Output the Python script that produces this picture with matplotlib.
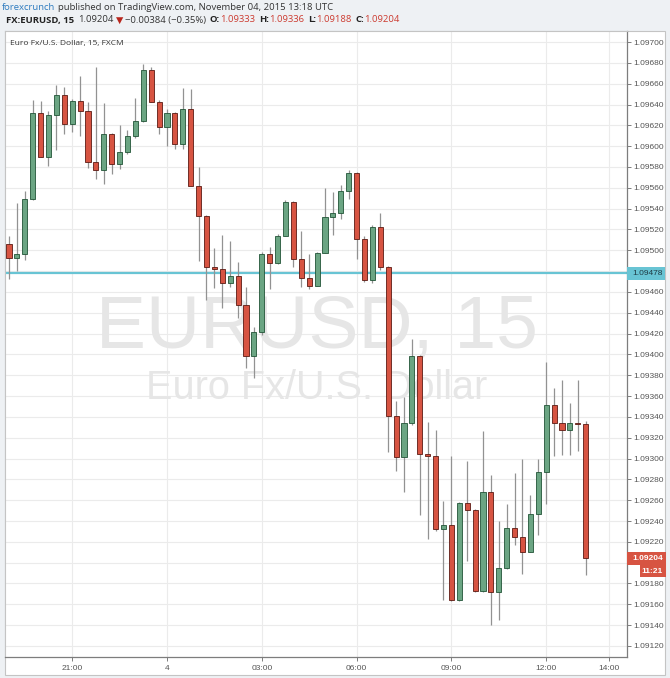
import matplotlib
matplotlib.use("Agg")
import matplotlib.pyplot as plt
import matplotlib.transforms as mtrans
from matplotlib.patches import Rectangle
import numpy as np
import pandas as pd

# ---------------- data (EURUSD 15-minute candles) ----------------
start_time = "2015-11-03 19:00"
opens = [1.09506, 1.09493, 1.09496, 1.09549, 1.09632, 1.09590, 1.09630, 1.09649, 1.09621, 1.09643,
         1.09634, 1.09585, 1.09577, 1.09612, 1.09583, 1.09594, 1.09610, 1.09624, 1.09673, 1.09642,
         1.09618, 1.09632, 1.09602, 1.09636, 1.09562, 1.09533, 1.09484, 1.09482, 1.09469, 1.09475,
         1.09447, 1.09398, 1.09422, 1.09496, 1.09488, 1.09514, 1.09546, 1.09492, 1.09473, 1.09466,
         1.09497, 1.09532, 1.09536, 1.09557, 1.09574, 1.09511, 1.09471, 1.09522, 1.09484, 1.09341,
         1.09301, 1.09334, 1.09398, 1.09304, 1.09302, 1.09232, 1.09236, 1.09164, 1.09257, 1.09251,
         1.09173, 1.09268, 1.09172, 1.09195, 1.09233, 1.09225, 1.09210, 1.09247, 1.09287, 1.09351,
         1.09334, 1.09327, 1.09334, 1.09333]
highs = [1.09514, 1.09545, 1.09557, 1.09644, 1.09643, 1.09634, 1.09659, 1.09657, 1.09645, 1.09667,
         1.09642, 1.09676, 1.09641, 1.09613, 1.09620, 1.09616, 1.09646, 1.09679, 1.09676, 1.09644,
         1.09636, 1.09633, 1.09656, 1.09655, 1.09580, 1.09534, 1.09502, 1.09515, 1.09509, 1.09489,
         1.09465, 1.09426, 1.09498, 1.09503, 1.09516, 1.09548, 1.09547, 1.09519, 1.09496, 1.09498,
         1.09560, 1.09556, 1.09563, 1.09577, 1.09575, 1.09514, 1.09524, 1.09536, 1.09485, 1.09355,
         1.09359, 1.09415, 1.09399, 1.09335, 1.09327, 1.09259, 1.09302, 1.09258, 1.09298, 1.09252,
         1.09326, 1.09284, 1.09240, 1.09256, 1.09286, 1.09300, 1.09265, 1.09300, 1.09393, 1.09368,
         1.09375, 1.09353, 1.09375, 1.09336]
lows = [1.09472, 1.09480, 1.09491, 1.09548, 1.09590, 1.09581, 1.09596, 1.09612, 1.09614, 1.09610,
        1.09579, 1.09568, 1.09564, 1.09573, 1.09578, 1.09592, 1.09608, 1.09623, 1.09642, 1.09612,
        1.09600, 1.09597, 1.09597, 1.09562, 1.09490, 1.09452, 1.09464, 1.09445, 1.09465, 1.09435,
        1.09387, 1.09377, 1.09419, 1.09463, 1.09487, 1.09514, 1.09484, 1.09465, 1.09463, 1.09466,
        1.09497, 1.09515, 1.09530, 1.09549, 1.09492, 1.09470, 1.09469, 1.09481, 1.09306, 1.09288,
        1.09268, 1.09332, 1.09246, 1.09223, 1.09230, 1.09164, 1.09163, 1.09163, 1.09202, 1.09172,
        1.09172, 1.09140, 1.09145, 1.09194, 1.09217, 1.09189, 1.09210, 1.09227, 1.09256, 1.09302,
        1.09303, 1.09303, 1.09307, 1.09188]
closes = [1.09493, 1.09496, 1.09549, 1.09632, 1.09590, 1.09630, 1.09649, 1.09621, 1.09643, 1.09634,
          1.09585, 1.09577, 1.09612, 1.09583, 1.09594, 1.09610, 1.09624, 1.09673, 1.09642, 1.09618,
          1.09632, 1.09602, 1.09636, 1.09562, 1.09533, 1.09484, 1.09482, 1.09469, 1.09475, 1.09447,
          1.09398, 1.09422, 1.09496, 1.09488, 1.09514, 1.09546, 1.09492, 1.09473, 1.09466, 1.09497,
          1.09532, 1.09536, 1.09557, 1.09574, 1.09511, 1.09471, 1.09522, 1.09484, 1.09341, 1.09301,
          1.09334, 1.09398, 1.09304, 1.09302, 1.09232, 1.09236, 1.09164, 1.09257, 1.09251, 1.09173,
          1.09268, 1.09172, 1.09195, 1.09233, 1.09225, 1.09210, 1.09247, 1.09287, 1.09351, 1.09334,
          1.09327, 1.09334, 1.09333, 1.09204]

tick_times = ["2015-11-03 21:00", "2015-11-04 00:00", "2015-11-04 03:00", "2015-11-04 06:00",
              "2015-11-04 09:00", "2015-11-04 12:00", "2015-11-04 14:00"]
tick_labels = ["21:00", "4", "03:00", "06:00", "09:00", "12:00", "14:00"]
price_ticks = [1.0912, 1.0914, 1.0916, 1.0918, 1.0920, 1.0922, 1.0924, 1.0926, 1.0928, 1.0930,
               1.0932, 1.0934, 1.0936, 1.0938, 1.0940, 1.0942, 1.0944, 1.0946, 1.0948, 1.0950,
               1.0952, 1.0954, 1.0956, 1.0958, 1.0960, 1.0962, 1.0964, 1.0966, 1.0968, 1.0970]
level_line = 1.09478
last_price = 1.09204
countdown = "11:21"

# ---------------- layout ----------------
W, H = 670, 678
fig = plt.figure(figsize=(W / 100, H / 100), dpi=100, facecolor="#eef1f4")


def fx(px):
    return px / W


def fy(py):
    return 1 - py / H


fig.patches.append(Rectangle((fx(5), fy(675)), fx(665) - fx(5), fy(31) - fy(675),
                             transform=fig.transFigure, facecolor="white",
                             edgecolor="#c4c4c4", lw=0.8, zorder=-5))

ax = fig.add_axes([fx(5), fy(657), fx(627) - fx(5), fy(31) - fy(657)])
ax.set_facecolor("white")

freq = pd.Timedelta("15min")
t0 = pd.Timestamp(start_time)
n = len(opens)
xs = np.arange(n)
tick_pos = [(pd.Timestamp(t) - t0) / freq for t in tick_times]

ax.set_xlim(-0.506, 78.23)
ax.set_ylim(1.091094, 1.097106)

# grid
for p in price_ticks:
    ax.axhline(p, color="#ebebeb", lw=0.8, zorder=0.2)
for tp in tick_pos:
    ax.axvline(tp, color="#ebebeb", lw=0.8, zorder=0.2)

# watermark
ax.text(0.5015, 1 - (348 - 31) / 626, "EURUSD, 15", transform=ax.transAxes,
        ha="center", va="baseline", fontsize=54, color="#e6e6e6",
        family="Liberation Sans", zorder=0.5)
ax.text(0.5015, 1 - (399 - 31) / 626, "Euro Fx/U.S. Dollar", transform=ax.transAxes,
        ha="center", va="baseline", fontsize=28.5, color="#e6e6e6",
        family="Liberation Sans", zorder=0.5)

# level line
ax.axhline(level_line, color="#68c4d4", lw=1.6, zorder=1)

# candles
up_c, up_e = "#6ba583", "#225437"
dn_c, dn_e = "#d75442", "#5b1a13"
o = np.array(opens)
c = np.array(closes)
hi = np.array(highs)
lo = np.array(lows)
up = c >= o
ax.vlines(xs, lo, hi, color="#929292", lw=0.9, zorder=2)
bottoms = np.minimum(o, c)
heights = np.maximum(np.abs(c - o), 0.000012)
ax.bar(xs, heights, bottom=bottoms, width=0.64,
       color=np.where(up, up_c, dn_c), edgecolor=np.where(up, up_e, dn_e),
       linewidth=0.6, zorder=3)

# axes styling
for s in ["left", "top"]:
    ax.spines[s].set_color("#c4c4c4")
    ax.spines[s].set_linewidth(0.8)
for s in ["right", "bottom"]:
    ax.spines[s].set_color("#7d7d7d")
    ax.spines[s].set_linewidth(0.9)

ax.yaxis.tick_right()
ax.set_yticks(price_ticks)
# labels hidden behind the level / last-price boxes are left blank
ax.set_yticklabels(["" if min(abs(p - level_line), abs(p - last_price)) < 0.00006 else f"{p:.5f}"
                    for p in price_ticks])
ax.set_xticks(tick_pos)
ax.set_xticklabels(tick_labels)
ax.tick_params(axis="y", which="both", right=True, left=False, length=3, width=0.7,
               color="#7d7d7d", labelsize=6, labelcolor="#555555", pad=1.5)
ax.tick_params(axis="x", length=3, width=0.7, color="#7d7d7d", labelsize=6,
               labelcolor="#555555", pad=3)
for lab in ax.get_xticklabels() + ax.get_yticklabels():
    lab.set_family("Liberation Sans")

# price labels on the right axis
blend = mtrans.blended_transform_factory(ax.transAxes, ax.transData)
axw = 622.0
ax.add_patch(Rectangle((1.0, level_line - 0.000062), 38 / axw, 0.000124, transform=blend,
                       facecolor="#68c4d4", edgecolor="none", clip_on=False, zorder=5))
ax.text(1.0 + 5 / axw, level_line, f"{level_line:.5f}", transform=blend, ha="left", va="center",
        fontsize=6, color="#1f3b44", family="Liberation Sans", clip_on=False, zorder=6)

ax.add_patch(Rectangle((1.0, last_price - 0.000062), 39 / axw, 0.000124, transform=blend,
                       facecolor="#d75442", edgecolor="none", clip_on=False, zorder=5))
ax.text(1.0 + 5 / axw, last_price, f"{last_price:.5f}", transform=blend, ha="left", va="center",
        fontsize=6, color="white", fontweight="bold", family="Liberation Sans",
        clip_on=False, zorder=6)
ax.add_patch(Rectangle((1.0 + 13 / axw, last_price - 0.000062 - 0.000118), 26 / axw, 0.000118,
                       transform=blend, facecolor="#d75442", edgecolor="none",
                       clip_on=False, zorder=5))
ax.text(1.0 + 36 / axw, last_price - 0.000062 - 0.000059, countdown, transform=blend,
        ha="right", va="center", fontsize=6, color="white", fontweight="bold",
        family="Liberation Sans", clip_on=False, zorder=6)

# legend in top-left
fig.text(fx(10), fy(44), "Euro Fx/U.S. Dollar, 15, FXCM", fontsize=6, color="#333333",
         family=["Open Sans", "DejaVu Sans"], va="center", ha="left")

# header
renderer = fig.canvas.get_renderer()


def chain(pieces, x0, y, size):
    x = x0
    for s, color, weight, gap in pieces:
        t = fig.text(fx(x), fy(y), s, color=color, fontsize=size, fontweight=weight,
                     family=["Open Sans", "DejaVu Sans"], va="center", ha="left")
        bb = t.get_window_extent(renderer=renderer)
        x += bb.width + gap


red = "#cc3b30"
dark = "#333333"
chain([("forexcrunch", "#2e7bbf", "normal", 3),
       ("published on TradingView.com, November 04, 2015 13:18 UTC", dark, "normal", 0)],
      2, 8, 6.8)
chain([("FX:EURUSD, 15", "#222222", "bold", 4),
       (f"{closes[-1]:.5f}", dark, "normal", 2),
       ("\u25BC", "#b8261c", "normal", 2),
       ("\u22120.00384 (\u22120.35%)", dark, "normal", 4),
       ("O:", "#222222", "bold", 0.5), (f"{opens[-1]:.5f}", red, "normal", 3.5),
       ("H:", "#222222", "bold", 0.5), (f"{highs[-1]:.5f}", red, "normal", 3.5),
       ("L:", "#222222", "bold", 0.5), (f"{lows[-1]:.5f}", red, "normal", 3.5),
       ("C:", "#222222", "bold", 0.5), (f"{closes[-1]:.5f}", red, "normal", 0)],
      6, 20, 6.8)

fig.savefig("out.png", dpi=100, facecolor=fig.get_facecolor())
